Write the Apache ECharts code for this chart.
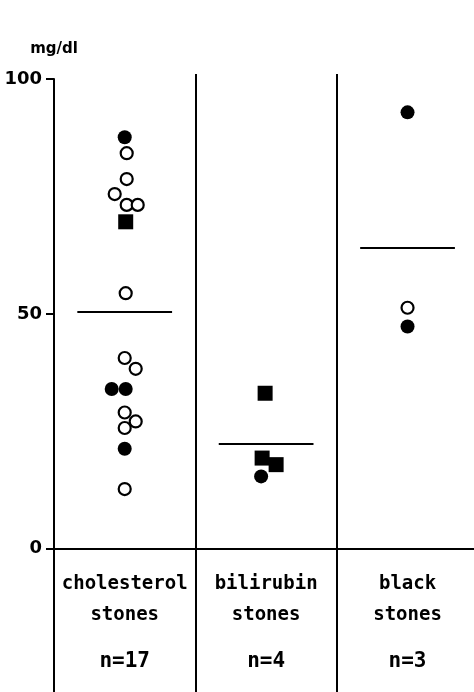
<!DOCTYPE html>
<html><head><meta charset="utf-8">
<script src="https://cdn.jsdelivr.net/npm/echarts@6/dist/echarts.min.js"></script>
<style>html,body{margin:0;padding:0;background:#fff}#c{width:474px;height:692px}</style>
</head><body><div id="c"></div>
<script>
// ---- data ----
const groups = ['cholesterol', 'bilirubin', 'black'];
const groupLine2 = ['stones', 'stones', 'stones'];
const groupN = ['n=17', 'n=4', 'n=3'];
// kinds: f = filled circle, o = open circle, s = filled square
const cholValues = [87.6, 84.2, 78.7, 75.5, 73.2, 73.2, 69.6, 54.4, 40.6, 38.3, 34.0, 34.0, 29.0, 27.1, 25.7, 21.3, 12.7];
const cholKinds  = ['f', 'o', 'o', 'o', 'o', 'o', 's', 'o', 'o', 'o', 'f', 'f', 'o', 'o', 'o', 'f', 'o'];
const biliValues = [33.1, 19.3, 17.9, 15.4];
const biliKinds  = ['s', 's', 's', 'f'];
const blackValues = [92.9, 51.3, 47.3];
const blackKinds  = ['f', 'o', 'f'];
const meanValues = [50.5, 22.3, 64.1];
const yTicks = [0, 50, 100];
const yUnit = 'mg/dl';

// ---- styling: sideways spread of overlapping symbols (px) ----
const cholSpread  = [0, 2, 2, -10, 2, 13, 1, 1, 0, 11, -13, 1, 0, 11, 0, 0, 0];
const biliSpread  = [-1, -4, 10, -5];
const blackSpread = [0, 0, 0];

const valueSets = [cholValues, biliValues, blackValues];
const kindSets = [cholKinds, biliKinds, blackKinds];
const spreadSets = [cholSpread, biliSpread, blackSpread];

const points = [];
valueSets.forEach((vals, gi) => {
  vals.forEach((v, i) => {
    const k = kindSets[gi][i];
    points.push({
      value: [gi + 0.5, v],
      symbol: k === 's' ? 'rect' : 'circle',
      symbolSize: k === 's' ? 15 : (k === 'o' ? 12 : 14),
      symbolOffset: [spreadSets[gi][i], 0],
      itemStyle: k === 'o'
        ? { color: '#fff', borderColor: '#000', borderWidth: 2.2, opacity: 1 }
        : { color: '#000', borderWidth: 0, opacity: 1 }
    });
  });
});

const meanLines = [[{ coord: [0, 0] }, { coord: [2.97, 0] }]];
meanValues.forEach((m, gi) => meanLines.push([{ coord: [gi + 0.5 - 0.335, m] }, { coord: [gi + 0.5 + 0.335, m] }]));

const labelPoints = groups.map((g, gi) => ({
  value: [gi + 0.5, 0],
  label: { formatter: `{a|${g}}\n{a|${groupLine2[gi]}}\n{n|${groupN[gi]}}` }
}));

const lineStyle = { color: '#000', width: 2, type: 'solid' };

const chart = echarts.init(document.getElementById('c'), null, { renderer: 'canvas' });
chart.setOption({
  animation: false,
  backgroundColor: '#fff',
  grid: [
    { left: 54, right: 0, top: 79, bottom: 0, containLabel: false, outerBoundsMode: 'none' },
    { left: 54, right: 0, top: 74, bottom: 0, containLabel: false, outerBoundsMode: 'none' }
  ],
  xAxis: [
    { gridIndex: 0, type: 'value', min: 0, max: 2.97, show: false, axisLine: { onZero: false }, splitLine: { show: false } },
    { gridIndex: 1, type: 'value', min: 0, max: 2.97, show: false, axisLine: { onZero: false }, splitLine: { show: false } }
  ],
  yAxis: [
    {
      gridIndex: 0, type: 'value', min: -30.5, max: 100, position: 'left',
      axisLine: { show: true, onZero: false, lineStyle: { color: '#000', width: 2 } },
      axisTick: { show: true, customValues: yTicks, length: 8, lineStyle: { color: '#000', width: 2 } },
      axisLabel: { customValues: yTicks, margin: 12, fontSize: 18, fontWeight: 'bold', fontFamily: 'DejaVu Sans', color: '#000' },
      splitLine: { show: false },
      name: yUnit, nameLocation: 'end', nameGap: 22,
      nameTextStyle: { fontSize: 15, fontWeight: 'bold', fontFamily: 'DejaVu Sans', color: '#000' }
    },
    { gridIndex: 1, type: 'value', min: 0, max: 1, show: false, axisLine: { onZero: false }, splitLine: { show: false } }
  ],
  series: [
    {
      type: 'scatter',
      xAxisIndex: 0, yAxisIndex: 0,
      clip: false,
      data: points,
      markLine: {
        silent: true, symbol: ['none', 'none'], animation: false,
        label: { show: false }, lineStyle: lineStyle, emphasis: { disabled: true },
        data: meanLines
      }
    },
    {
      type: 'scatter',
      xAxisIndex: 0, yAxisIndex: 0,
      clip: false, silent: true,
      symbolSize: 2,
      itemStyle: { color: 'rgba(0,0,0,0)', opacity: 1 },
      labelLayout: { hideOverlap: false },
      data: labelPoints,
      label: {
        show: true, position: 'bottom', distance: 19, color: '#000', opacity: 1,
        rich: {
          a: { fontSize: 19, lineHeight: 31, fontFamily: 'DejaVu Sans Mono', fontWeight: 'bold', color: '#000' },
          n: { fontSize: 21, lineHeight: 62, fontFamily: 'DejaVu Sans Mono', fontWeight: 'bold', color: '#000' }
        }
      }
    },
    {
      type: 'scatter',
      xAxisIndex: 1, yAxisIndex: 1,
      data: [],
      markLine: {
        silent: true, symbol: ['none', 'none'], animation: false,
        label: { show: false }, lineStyle: lineStyle, emphasis: { disabled: true },
        data: [{ xAxis: 1 }, { xAxis: 2 }]
      }
    }
  ]
});
</script></body></html>
